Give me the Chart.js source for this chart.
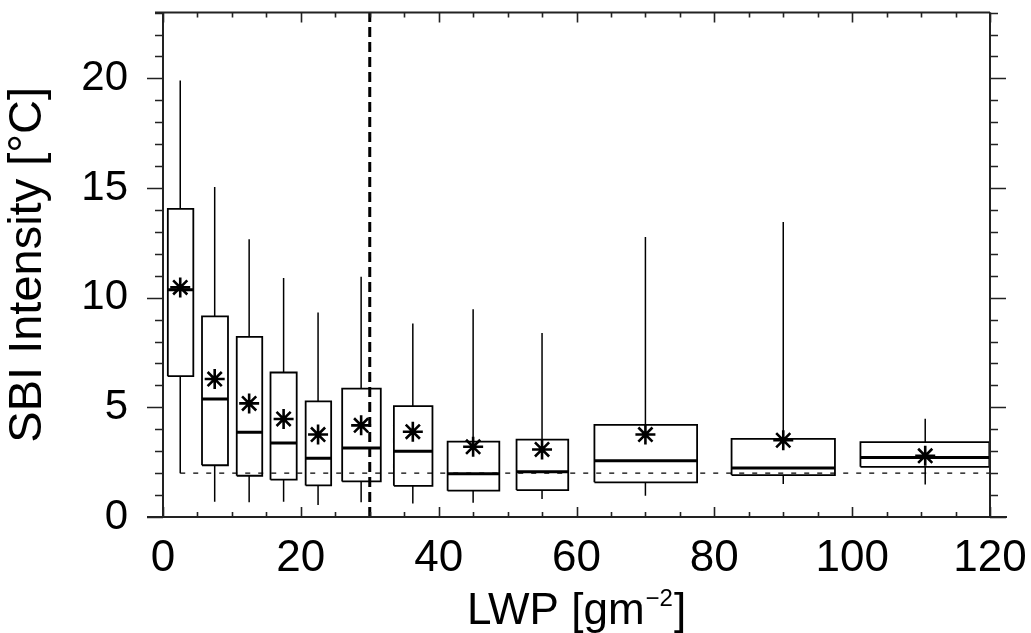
<!DOCTYPE html>
<html>
<head>
<meta charset="utf-8">
<script src="https://cdn.jsdelivr.net/npm/chart.js@4/dist/chart.umd.min.js"></script>
<style>
  html, body { margin: 0; padding: 0; background: #fff; }
</style>
</head>
<body>
<canvas id="chart" width="1031" height="633"></canvas>
<script>
// box edges / centres on the LWP axis
const boxLeft   = [0.7, 5.66, 10.7, 15.6, 20.7, 26.0, 33.5, 41.3, 51.3, 62.6, 82.5, 101.2];
const boxRight  = [4.4, 9.43, 14.4, 19.4, 24.4, 31.6, 39.1, 48.8, 58.8, 77.5, 97.5, 119.9];
const boxCenter = [2.5, 7.5, 12.5, 17.5, 22.5, 28.75, 36.25, 45, 55, 70, 90, 110.6];

// SBI intensity statistics per bin
const whiskerLow  = [2.0, 0.7, 0.67, 0.7, 0.55, 0.67, 0.62, 0.65, 0.82, 0.97, 1.5, 1.48];
const quart1      = [6.42, 2.36, 1.88, 1.7, 1.44, 1.62, 1.42, 1.2, 1.23, 1.58, 1.91, 2.29];
const medians     = [10.36, 5.38, 3.86, 3.38, 2.68, 3.15, 3.0, 1.97, 2.06, 2.56, 2.24, 2.71];
const means       = [10.47, 6.29, 5.18, 4.47, 3.76, 4.18, 3.89, 3.2, 3.08, 3.76, 3.5, 2.79];
const quart3      = [14.05, 9.15, 8.21, 6.59, 5.27, 5.85, 5.06, 3.44, 3.53, 4.2, 3.56, 3.41];
const whiskerHigh = [19.9, 15.05, 12.67, 10.9, 9.32, 10.95, 8.82, 9.47, 8.39, 12.77, 13.45, 4.48];

// reference lines
const thresholdY = 2;
const thresholdX = [2.5, 120];
const cutoffX = 30;

// axes
const xTicks = [0, 20, 40, 60, 80, 100, 120];
const yTicks = [0, 5, 10, 15, 20];
const xMinorStep = 5;
const yMinorStep = 1;
const yMax = 23;
const xTitle = ['LWP [gm', '\u22122', ']'];

const FONT = "'Liberation Sans', Arial, Helvetica, sans-serif";

function gap() { return { x: 0, y: null }; }

const boxPts = [], medianPts = [], whiskerPts = [];
boxCenter.forEach((c, i) => {
  boxPts.push(
    { x: boxLeft[i], y: quart1[i] }, { x: boxRight[i], y: quart1[i] },
    { x: boxRight[i], y: quart3[i] }, { x: boxLeft[i], y: quart3[i] },
    { x: boxLeft[i], y: quart1[i] }, gap()
  );
  medianPts.push({ x: boxLeft[i], y: medians[i] }, { x: boxRight[i], y: medians[i] }, gap());
  whiskerPts.push({ x: c, y: quart3[i] }, { x: c, y: whiskerHigh[i] }, gap());
  whiskerPts.push({ x: c, y: whiskerLow[i] }, { x: c, y: quart1[i] }, gap());
});
const meanPts = boxCenter.map((c, i) => ({ x: c, y: means[i] }));

// frame with IDL style ticks: x ticks inward, y ticks outward
const axisTicks = {
  id: 'axisTicks',
  afterDraw(chart) {
    const { ctx, chartArea: a, scales: { x, y } } = chart;
    ctx.save();
    ctx.strokeStyle = '#222';
    ctx.lineWidth = 2;
    ctx.beginPath();
    ctx.moveTo(a.left - 8, a.top); ctx.lineTo(a.right, a.top);
    ctx.moveTo(a.left - 16, a.bottom); ctx.lineTo(a.right + 17, a.bottom);
    ctx.moveTo(a.left, a.top); ctx.lineTo(a.left, a.bottom);
    ctx.moveTo(a.right, a.top); ctx.lineTo(a.right, a.bottom);
    ctx.stroke();
    ctx.lineWidth = 1.6;
    ctx.beginPath();
    for (let v = x.min; v <= x.max; v += xMinorStep) {
      const px = Math.round(x.getPixelForValue(v)) + 0.5;
      const len = xTicks.includes(v) ? 10 : 5;
      ctx.moveTo(px, a.bottom); ctx.lineTo(px, a.bottom - len);
      ctx.moveTo(px, a.top); ctx.lineTo(px, a.top + len);
    }
    for (let v = 0; v <= yMax; v += yMinorStep) {
      const py = Math.round(y.getPixelForValue(v)) + 0.5;
      const len = yTicks.includes(v) ? 16 : 8;
      ctx.moveTo(a.left, py); ctx.lineTo(a.left - len, py);
      ctx.moveTo(a.right, py); ctx.lineTo(a.right + len, py);
    }
    ctx.stroke();

    // x title with a small raised exponent
    const big = '44px ' + FONT, small = '24px ' + FONT;
    ctx.fillStyle = '#000';
    ctx.textBaseline = 'alphabetic';
    ctx.font = big;
    const w0 = ctx.measureText(xTitle[0]).width, w2 = ctx.measureText(xTitle[2]).width;
    ctx.font = small;
    const w1 = ctx.measureText(xTitle[1]).width;
    let tx = (a.left + a.right) / 2 - (w0 + w1 + w2 + 2) / 2;
    const ty = 624;
    ctx.font = big; ctx.fillText(xTitle[0], tx, ty); tx += w0 + 1;
    ctx.font = small; ctx.fillText(xTitle[1], tx, ty - 18); tx += w1 + 1;
    ctx.font = big; ctx.fillText(xTitle[2], tx, ty);
    ctx.restore();
  }
};

new Chart(document.getElementById('chart'), {
  type: 'scatter',
  data: {
    datasets: [
      {
        type: 'line', data: thresholdX.map(v => ({ x: v, y: thresholdY })),
        borderColor: '#000', borderWidth: 1.2, borderDash: [5, 8], pointRadius: 0
      },
      {
        type: 'line', data: [{ x: cutoffX, y: 0 }, { x: cutoffX, y: yMax }],
        borderColor: '#000', borderWidth: 3, borderDash: [10, 5], pointRadius: 0
      },
      {
        type: 'line', data: whiskerPts, borderColor: '#000', borderWidth: 1.5,
        pointRadius: 0, spanGaps: false
      },
      {
        type: 'line', data: boxPts, borderColor: '#000', borderWidth: 1.8,
        pointRadius: 0, spanGaps: false, fill: false
      },
      {
        type: 'line', data: medianPts, borderColor: '#000', borderWidth: 3,
        pointRadius: 0, spanGaps: false
      },
      {
        data: meanPts, pointStyle: 'star', pointRadius: 10,
        borderColor: '#000', borderWidth: 2.6, backgroundColor: '#000'
      }
    ]
  },
  options: {
    responsive: false,
    animation: false,
    devicePixelRatio: 1,
    layout: { padding: { top: 11, right: 41, left: 0, bottom: 0 } },
    plugins: { legend: { display: false }, tooltip: { enabled: false } },
    scales: {
      x: {
        type: 'linear', min: 0, max: 120,
        grid: { display: false, drawTicks: false },
        border: { display: false },
        ticks: { stepSize: 20, color: '#000', padding: 15, font: { family: FONT, size: 44 } },
        afterFit: s => { s.height = 116; s.paddingLeft = 0; s.paddingRight = 0; }
      },
      y: {
        type: 'linear', min: 0, max: yMax,
        grid: { display: false, drawTicks: false },
        border: { display: false },
        ticks: {
          stepSize: 5, color: '#000', padding: 35, autoSkip: false,
          font: { family: FONT, size: 42 },
          callback: v => (yTicks.includes(v) ? v : '')
        },
        title: {
          display: true, text: 'SBI Intensity [\u00B0C]', color: '#000',
          padding: { top: 0, bottom: 0 }, font: { family: FONT, size: 47 }
        },
        afterFit: s => { s.width = 163; s.paddingTop = 0; s.paddingBottom = 0; }
      }
    }
  },
  plugins: [axisTicks]
});
</script>
</body>
</html>
